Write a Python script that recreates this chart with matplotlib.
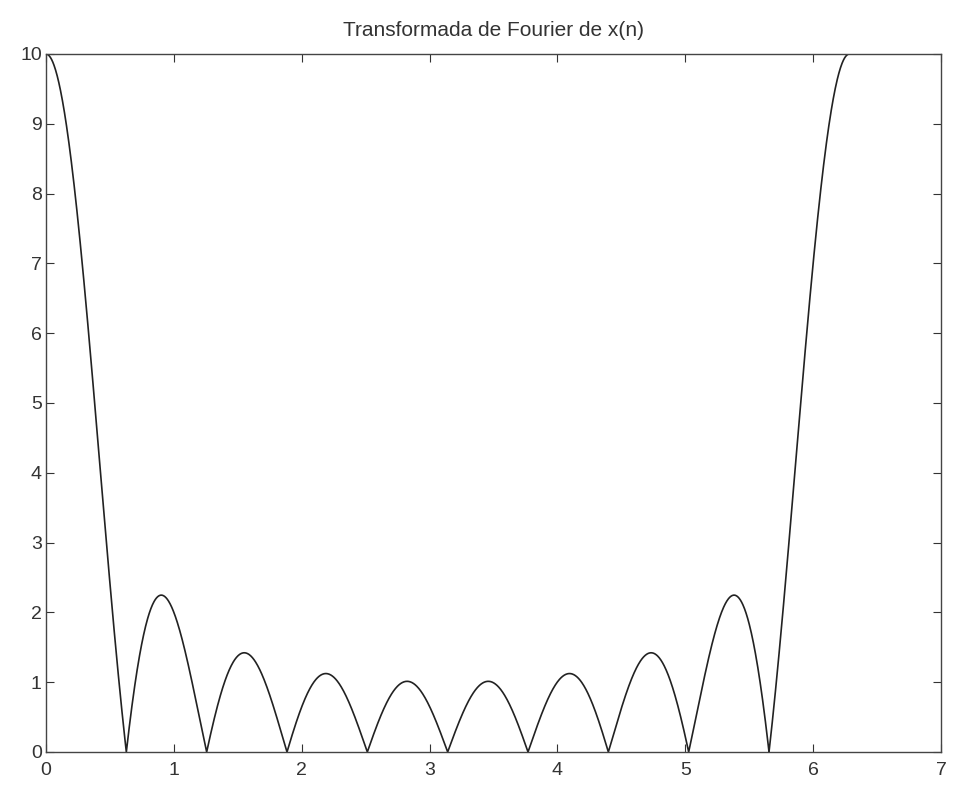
import numpy as np
import matplotlib
matplotlib.use("Agg")
import matplotlib.pyplot as plt

# Signal x(n): 10-point rectangular pulse (peak 10 at w=0, zeros at 2*pi*k/10)
x_n = [1, 1, 1, 1, 1, 1, 1, 1, 1, 1]
x_ticks = [0, 1, 2, 3, 4, 5, 6, 7]
y_ticks = [0, 1, 2, 3, 4, 5, 6, 7, 8, 9, 10]
title = "Transformada de Fourier de x(n)"

n = np.arange(len(x_n))
w = np.linspace(0, 2 * np.pi, 2001)
X = np.abs(np.exp(-1j * np.outer(w, n)) @ np.array(x_n, dtype=float))

plt.rcParams['font.family'] = ['Liberation Sans', 'DejaVu Sans']
fig = plt.figure(figsize=(9.56, 7.9), dpi=100)
ax = fig.add_axes([46/956, 38/790, (941-46)/956, (752-54)/790])
ax.plot(w, X, color='#222222', lw=1.2)
ax.set_xlim(0, 7)
ax.set_ylim(0, 10)
ax.set_xticks(x_ticks)
ax.set_yticks(y_ticks)
ax.tick_params(direction='in', top=True, right=True, labelsize=14, length=6,
               color='#333333', labelcolor='#333333')
ax.tick_params(axis='x', pad=7)
ax.tick_params(axis='y', pad=3)
for s in ax.spines.values():
    s.set_color('#444444')
    s.set_linewidth(1.0)
ax.set_title(title, fontsize=15, color='#333333', pad=13)
fig.savefig("out.png", dpi=100)
